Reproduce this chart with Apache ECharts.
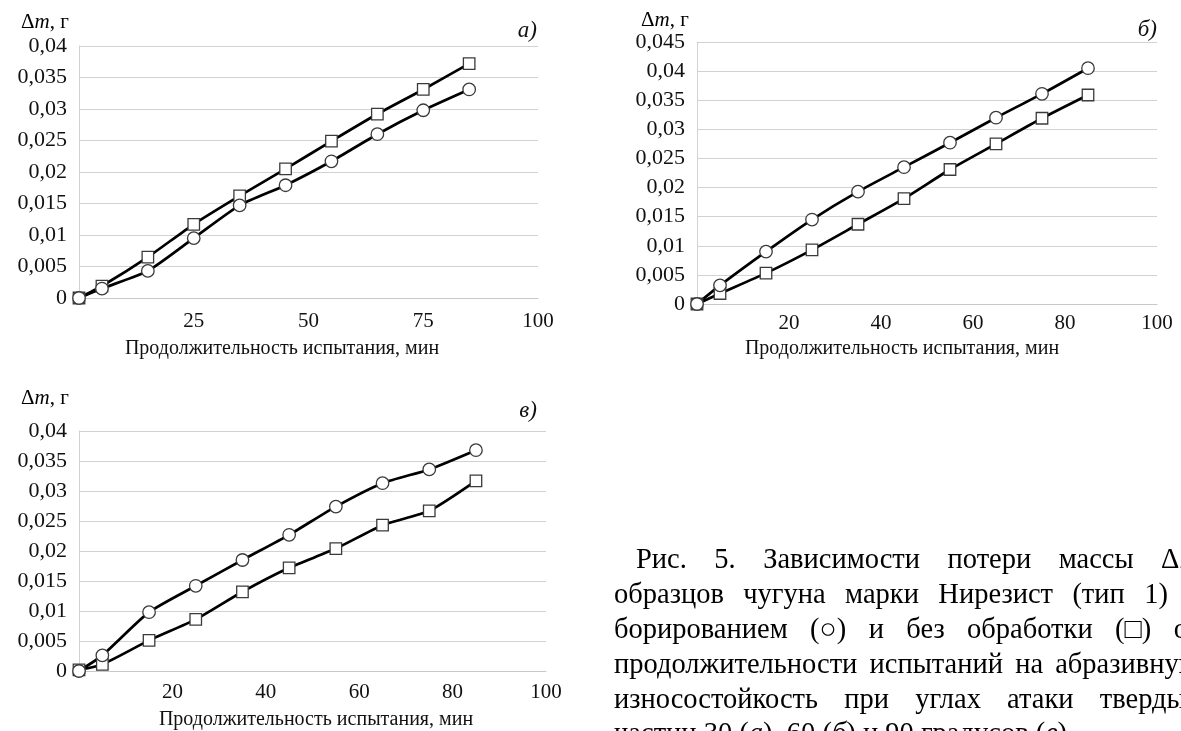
<!DOCTYPE html>
<html>
<head>
<meta charset="utf-8">
<script src="https://cdn.jsdelivr.net/npm/echarts@6/dist/echarts.min.js"></script>
<style>
html,body{margin:0;padding:0;background:#fff;}
#chart{width:1181px;height:731px;}
</style>
</head>
<body>
<div id="chart"></div>
<script>
// ---- data ----
const xMinutes = [0, 5, 15, 25, 35, 45, 55, 65, 75, 85];
// (a) 30 degrees
const aBorided = [0, 0.0015, 0.0043, 0.0095, 0.0147, 0.0179, 0.0217, 0.0260, 0.0298, 0.0331];
const aUntreated = [0, 0.0019, 0.0065, 0.0117, 0.0162, 0.0205, 0.0249, 0.0292, 0.0331, 0.0372];
// (б) 60 degrees
const bBorided = [0, 0.0032, 0.0090, 0.0145, 0.0193, 0.0235, 0.0277, 0.0320, 0.0361, 0.0405];
const bUntreated = [0, 0.0018, 0.0053, 0.0093, 0.0137, 0.0181, 0.0231, 0.0275, 0.0319, 0.0359];
// (в) 90 degrees
const cBorided = [0, 0.0026, 0.0098, 0.0142, 0.0185, 0.0227, 0.0274, 0.0313, 0.0336, 0.0368];
const cUntreated = [0.0002, 0.0011, 0.0051, 0.0086, 0.0132, 0.0172, 0.0204, 0.0243, 0.0267, 0.0317];

const yMax = [0.04, 0.045, 0.04];
const xInterval = [25, 20, 20];
const panelLabels = ['а)', 'б)', 'в)'];
const yAxisTitle = 'Δ*m*, г';
const xAxisTitle = 'Продолжительность испытания, мин';
const captionLines = [
  'Рис. 5. Зависимости потери массы Δ*m*',
  'образцов чугуна марки Нирезист (тип 1) с',
  'борированием (○) и без обработки (□) от',
  'продолжительности испытаний на абразивную',
  'износостойкость при углах атаки твердых',
  'частиц 30 (*а*), 60 (*б*) и 90 градусов (*в*).'
];

// ---- layout ----
const FAM = '"Liberation Serif","Times New Roman",serif';
const FS = 21;
const FSY = 22;
const FST = 20;
const TXT = '#111';
const grids = [
  {left: 79, top: 46, width: 459, height: 252},
  {left: 697, top: 42, width: 460, height: 262},
  {left: 79, top: 431, width: 467, height: 240}
];
const labelMargins = [13, 9, 11];

const chart = echarts.init(document.getElementById('chart'), null, {renderer: 'canvas'});

function fmtY(v) {
  if (v === 0) return '0';
  return String(+v.toFixed(3)).replace('.', ',');
}
function segs(w) {
  return w.split('*').map((t, k) => ({t: t, i: k % 2 === 1})).filter(s => s.t.length);
}
function richStr(w) {
  return segs(w).map(s => '{' + (s.i ? 'i' : 'n') + '|' + s.t + '}').join('');
}

const xAxes = [], yAxes = [], series = [];
const seriesSets = [[aUntreated, aBorided], [bUntreated, bBorided], [cUntreated, cBorided]];
for (let g = 0; g < 3; g++) {
  xAxes.push({
    type: 'value', gridIndex: g, min: 0, max: 100, interval: xInterval[g],
    axisLine: {show: true, lineStyle: {color: '#c8c8c8', width: 1}},
    axisTick: {show: false},
    splitLine: {show: false},
    axisLabel: {
      color: TXT, fontFamily: FAM, fontSize: FS, margin: labelMargins[g],
      formatter: v => (v === 0 ? '' : String(v))
    }
  });
  yAxes.push({
    type: 'value', gridIndex: g, min: 0, max: yMax[g], interval: 0.005,
    axisLine: {show: true, lineStyle: {color: '#d2d2d2', width: 1}},
    axisTick: {show: false},
    splitLine: {show: true, lineStyle: {color: '#d2d2d2', width: 1}},
    axisLabel: {
      color: TXT, fontFamily: FAM, fontSize: FSY, margin: 12,
      padding: [8, 0, 0, 0],
      formatter: fmtY
    }
  });
  const [untreated, borided] = seriesSets[g];
  series.push({
    name: 'без обработки', type: 'line', xAxisIndex: g, yAxisIndex: g,
    data: xMinutes.map((x, j) => [x, untreated[j]]),
    smooth: 0.2, symbol: 'rect', symbolSize: 11.5,
    lineStyle: {color: '#000', width: 2.7},
    itemStyle: {color: '#fff', borderColor: '#3a3a3a', borderWidth: 1.3},
    animation: false
  });
  series.push({
    name: 'борированием', type: 'line', xAxisIndex: g, yAxisIndex: g,
    data: xMinutes.map((x, j) => [x, borided[j]]),
    smooth: 0.2, symbol: 'circle', symbolSize: 12.5,
    lineStyle: {color: '#000', width: 2.7},
    itemStyle: {color: '#fff', borderColor: '#3a3a3a', borderWidth: 1.3},
    animation: false
  });
}

// ---- texts ----
const richChart = {
  n: {fontFamily: FAM, fontSize: FS, color: TXT},
  i: {fontFamily: FAM, fontSize: FS, fontStyle: 'italic', color: TXT}
};
const graphics = [];
const yTitlePos = [[21, 22], [641, 20], [21, 398]];
const xTitlePos = [[282, 349], [902, 349], [316, 720]];
const panelPos = [[537, 31], [1157, 30], [537, 411]];
for (let g = 0; g < 3; g++) {
  graphics.push({type: 'text', x: yTitlePos[g][0], y: yTitlePos[g][1],
    style: {text: richStr(yAxisTitle), rich: richChart, align: 'left', verticalAlign: 'middle'}});
  graphics.push({type: 'text', x: xTitlePos[g][0], y: xTitlePos[g][1],
    style: {text: xAxisTitle, font: FST + 'px ' + FAM, fill: TXT, align: 'center', verticalAlign: 'middle'}});
  graphics.push({type: 'text', x: panelPos[g][0], y: panelPos[g][1],
    style: {text: panelLabels[g], font: 'italic 23px ' + FAM, fill: TXT, align: 'right', verticalAlign: 'middle'}});
}

// caption, justified
const CF = 28.5;
const capL = 614, capIndent = 22, capR = 1200, capTop = 561, capStep = 34.8;
const ctx = document.createElement('canvas').getContext('2d');
function wordWidth(w) {
  return segs(w).reduce((a, s) => {
    ctx.font = (s.i ? 'italic ' : '') + CF + 'px ' + FAM;
    return a + ctx.measureText(s.t).width;
  }, 0);
}
const richCap = {
  n: {fontFamily: FAM, fontSize: CF, color: TXT},
  i: {fontFamily: FAM, fontSize: CF, fontStyle: 'italic', color: TXT}
};
captionLines.forEach((line, li) => {
  const y = capTop + li * capStep;
  const start = capL + (li === 0 ? capIndent : 0);
  if (li === captionLines.length - 1) {
    graphics.push({type: 'text', x: start, y: y,
      style: {text: richStr(line), rich: richCap, align: 'left', verticalAlign: 'middle'}});
    return;
  }
  const words = line.split(' ');
  const widths = words.map(wordWidth);
  const total = widths.reduce((a, b) => a + b, 0);
  const gap = (capR - start - total) / (words.length - 1);
  let x = start;
  words.forEach((w, k) => {
    graphics.push({type: 'text', x: x, y: y,
      style: {text: richStr(w), rich: richCap, align: 'left', verticalAlign: 'middle'}});
    x += widths[k] + gap;
  });
});

chart.setOption({
  animation: false,
  backgroundColor: '#fff',
  grid: grids.map(g => Object.assign({containLabel: false}, g)),
  xAxis: xAxes,
  yAxis: yAxes,
  series: series,
  graphic: graphics
});
</script>
</body>
</html>
